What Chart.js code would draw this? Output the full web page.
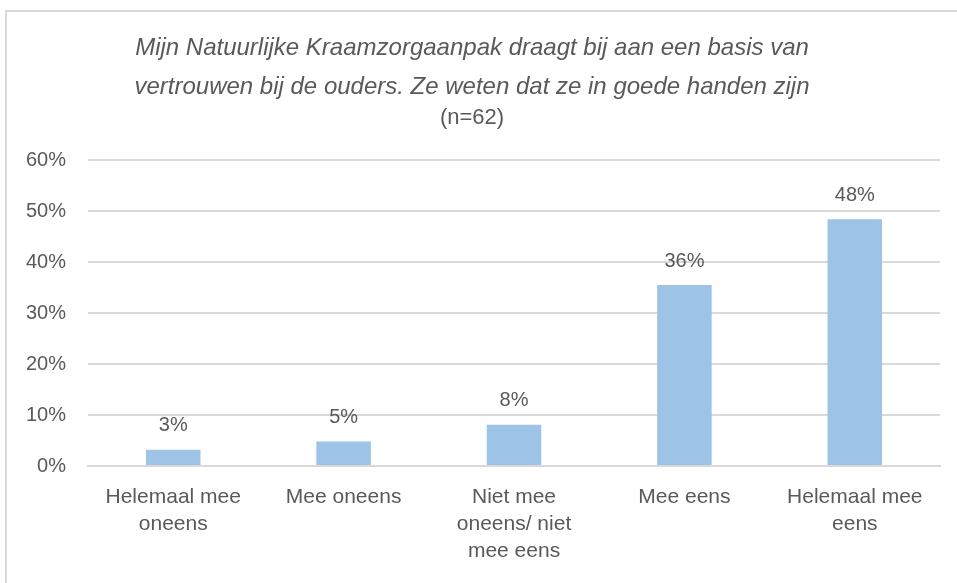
<!DOCTYPE html>
<html>
<head>
<meta charset="utf-8">
<script src="https://cdn.jsdelivr.net/npm/chart.js@4.4.1/dist/chart.umd.min.js"></script>
<style>
  html, body { margin: 0; padding: 0; background: #fff; overflow: hidden; }
  #frame {
    position: absolute; left: 5px; top: 10px; width: 960px; height: 580px;
    border-left: 2px solid #d9d9d9; border-top: 2px solid #d9d9d9;
  }
  #wrap { position: absolute; left: 0; top: 0; width: 957px; height: 583px; }
</style>
</head>
<body>
<div id="frame"></div>
<div id="wrap"><canvas id="chart"></canvas></div>
<script>
const categories = [
  ['Helemaal mee', 'oneens'],
  ['Mee oneens'],
  ['Niet mee', 'oneens/ niet', 'mee eens'],
  ['Mee eens'],
  ['Helemaal mee', 'eens']
];
const percentages = [3.2, 4.8, 8.1, 35.5, 48.4];
const yTicks = [0, 10, 20, 30, 40, 50, 60];

const textColor = '#595959';
const fontFamily = "'Liberation Sans', Arial, sans-serif";

const barLabels = {
  id: 'barLabels',
  afterDatasetsDraw(chart) {
    const ctx = chart.ctx;
    const meta = chart.getDatasetMeta(0);
    ctx.save();
    ctx.fillStyle = textColor;
    ctx.font = '20px ' + fontFamily;
    ctx.textAlign = 'center';
    ctx.textBaseline = 'middle';
    meta.data.forEach((bar, i) => {
      ctx.fillText(Math.round(percentages[i]) + '%', bar.x, bar.y - 24);
    });
    ctx.restore();
  }
};

document.addEventListener('DOMContentLoaded', function() {
  const ctx = document.getElementById('chart').getContext('2d');
  new Chart(ctx, {
    type: 'bar',
    data: {
      labels: categories,
      datasets: [{
        data: percentages,
        backgroundColor: '#9dc3e6',
        borderWidth: 0,
        barPercentage: 0.32,
        categoryPercentage: 1
      }]
    },
    options: {
      responsive: true,
      maintainAspectRatio: false,
      animation: false,
      layout: { padding: { left: 4, right: 17, top: 29, bottom: 1 } },
      plugins: {
        legend: { display: false },
        tooltip: { enabled: false },
        title: {
          display: true,
          text: ['Mijn Natuurlijke Kraamzorgaanpak draagt bij aan een basis van',
                 'vertrouwen bij de ouders. Ze weten dat ze in goede handen zijn'],
          color: textColor,
          font: { family: fontFamily, size: 24, style: 'italic', weight: 'normal', lineHeight: 1.63 },
          padding: { top: 0, bottom: 0 }
        },
        subtitle: {
          display: true,
          text: '(n=62)',
          color: textColor,
          font: { family: fontFamily, size: 22, weight: 'normal', lineHeight: 0.9 },
          padding: { top: 1, bottom: 32 }
        }
      },
      scales: {
        x: {
          grid: { display: false, drawTicks: false },
          border: { color: '#d9d9d9', width: 2 },
          ticks: {
            color: textColor,
            font: { family: fontFamily, size: 21, lineHeight: 1.3 },
            padding: 17,
            maxRotation: 0,
            autoSkip: false
          }
        },
        y: {
          min: 0,
          max: 60,
          afterBuildTicks(axis) {
            axis.ticks = yTicks.map(v => ({ value: v }));
          },
          grid: { color: '#d9d9d9', lineWidth: 2, drawTicks: false },
          border: { display: false },
          ticks: {
            color: textColor,
            font: { family: fontFamily, size: 20 },
            padding: 22,
            callback: v => v + '%'
          }
        }
      }
    },
    plugins: [barLabels]
  });
});
</script>
</body>
</html>
